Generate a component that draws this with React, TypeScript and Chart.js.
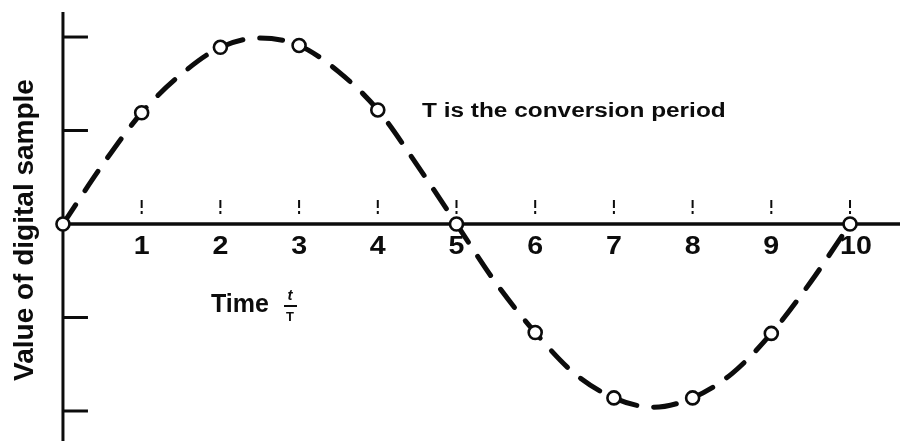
import React, { useEffect, useRef } from "react";
import { Chart, registerables } from "chart.js";

Chart.register(...registerables);

// Sample instants (in units of the conversion period T) and the sampled values
const sampleTimes = [0, 1, 2, 3, 4, 5, 6, 7, 8, 9, 10];
const sampleValues = [0, 1.19, 1.89, 1.91, 1.22, 0, -1.16, -1.86, -1.86, -1.17, 0];

// The continuous analogue signal, traced at half-period steps
const curveTimes = [0, 0.5, 1, 1.5, 2, 2.5, 3, 3.5, 4, 4.5, 5, 5.5, 6, 6.5, 7, 7.5, 8, 8.5, 9, 9.5, 10];
const curveValues = [0, 0.63, 1.19, 1.6, 1.89, 1.99, 1.91, 1.63, 1.22, 0.63, 0, -0.63, -1.16, -1.6, -1.86, -1.96, -1.86, -1.6, -1.17, -0.62, 0];

const xTickValues = [1, 2, 3, 4, 5, 6, 7, 8, 9, 10];
const xTickLabels = ["1", "2", "3", "4", "5", "6", "7", "8", "9", "10"];
const yTickValues = [2, 1, -1, -2];

const yAxisTitle = "Value of digital sample";
const xAxisTitle = "Time";
const fractionTop = "t";
const fractionBottom = "T";
const noteText = "T is the conversion period";

const INK = "#0c0c0c";
const FONT = "'Liberation Sans', Arial, Helvetica, sans-serif";

const axesPlugin = {
  id: "bookAxes",
  beforeDraw(chart: any) {
    const { ctx, width, height } = chart;
    ctx.save();
    ctx.fillStyle = "#ffffff";
    ctx.fillRect(0, 0, width, height);
    ctx.restore();
  },
  beforeDatasetsDraw(chart: any) {
    const { ctx, width, height } = chart;
    const xs = chart.scales.x;
    const ys = chart.scales.y;
    const x0 = xs.getPixelForValue(0);
    const y0 = ys.getPixelForValue(0);
    ctx.save();
    ctx.strokeStyle = INK;
    ctx.lineCap = "butt";

    // vertical value axis
    ctx.lineWidth = 3;
    ctx.beginPath();
    ctx.moveTo(x0, 12);
    ctx.lineTo(x0, height);
    ctx.stroke();

    // horizontal time axis
    ctx.lineWidth = 3.5;
    ctx.beginPath();
    ctx.moveTo(x0, y0);
    ctx.lineTo(width, y0);
    ctx.stroke();

    // value ticks pointing into the plot
    ctx.lineWidth = 3;
    yTickValues.forEach((v) => {
      const py = ys.getPixelForValue(v);
      ctx.beginPath();
      ctx.moveTo(x0, py);
      ctx.lineTo(x0 + 25, py);
      ctx.stroke();
    });

    // short broken marks above the time axis
    ctx.lineWidth = 2;
    ctx.setLineDash([8, 3, 3, 3]);
    xTickValues.forEach((t) => {
      const px = xs.getPixelForValue(t);
      ctx.beginPath();
      ctx.moveTo(px, y0 - 24);
      ctx.lineTo(px, y0 - 8);
      ctx.stroke();
    });
    ctx.setLineDash([]);
    ctx.restore();
  },
  afterDatasetsDraw(chart: any) {
    const { ctx } = chart;
    const xs = chart.scales.x;
    const ys = chart.scales.y;
    const y0 = ys.getPixelForValue(0);
    ctx.save();
    ctx.fillStyle = INK;
    ctx.strokeStyle = INK;

    // time tick numbers
    ctx.textAlign = "center";
    ctx.textBaseline = "middle";
    ctx.font = `600 26px ${FONT}`;
    xTickValues.forEach((t, i) => {
      const px = xs.getPixelForValue(t) + (i === 9 ? 6 : 0);
      ctx.save();
      ctx.translate(px, y0 + 23);
      ctx.scale(1.1, 1);
      ctx.fillText(xTickLabels[i], 0, 0);
      ctx.restore();
    });

    // vertical axis title
    ctx.save();
    ctx.translate(25, 230);
    ctx.rotate(-Math.PI / 2);
    ctx.font = `bold 28px ${FONT}`;
    ctx.textAlign = "center";
    ctx.textBaseline = "middle";
    ctx.fillText(yAxisTitle, 0, 0);
    ctx.restore();

    // time axis title with the t/T fraction
    ctx.textAlign = "left";
    ctx.textBaseline = "middle";
    ctx.font = `bold 25px ${FONT}`;
    ctx.fillText(xAxisTitle, 211, 305);
    ctx.textAlign = "center";
    ctx.font = `italic bold 15px ${FONT}`;
    ctx.fillText(fractionTop, 290, 296);
    ctx.lineWidth = 2;
    ctx.beginPath();
    ctx.moveTo(284, 306);
    ctx.lineTo(297, 306);
    ctx.stroke();
    ctx.font = `bold 13px ${FONT}`;
    ctx.fillText(fractionBottom, 290, 317);

    // annotation
    ctx.save();
    ctx.translate(422, 111);
    ctx.scale(1.22, 1);
    ctx.textAlign = "left";
    ctx.font = `bold 20px ${FONT}`;
    ctx.fillText(noteText, 0, 0);
    ctx.restore();

    ctx.restore();
  },
};

export default function App() {
  const canvasRef = useRef<HTMLCanvasElement | null>(null);

  useEffect(() => {
    const canvas = canvasRef.current;
    if (!canvas) return;

    const samples = sampleTimes.map((t, i) => ({ x: t, y: sampleValues[i] }));
    const curve = curveTimes.map((t, i) => ({ x: t, y: curveValues[i] }));

    const chart = new Chart(canvas, {
      type: "scatter",
      data: {
        datasets: [
          {
            label: "samples",
            data: samples,
            showLine: false,
            pointRadius: 6.5,
            pointBackgroundColor: "#ffffff",
            pointBorderColor: INK,
            pointBorderWidth: 2.6,
          },
          {
            label: "signal",
            data: curve,
            showLine: true,
            pointRadius: 0,
            borderColor: INK,
            borderWidth: 5,
            borderDash: [23, 17],
            borderCapStyle: "round",
            cubicInterpolationMode: "monotone",
            fill: false,
          },
        ],
      },
      options: {
        animation: false,
        responsive: false,
        events: [],
        layout: { padding: 0, autoPadding: false },
        plugins: {
          legend: { display: false },
          tooltip: { enabled: false },
        },
        scales: {
          x: { type: "linear", display: false, min: -0.8, max: 10.635 },
          y: { type: "linear", display: false, min: -2.321, max: 2.396 },
        },
      },
      plugins: [axesPlugin],
    });

    return () => chart.destroy();
  }, []);

  return (
    <div style={{ position: "absolute", left: 0, top: 0, width: 900, height: 441, background: "#ffffff" }}>
      <canvas ref={canvasRef} width={900} height={441} style={{ display: "block" }} />
    </div>
  );
}
